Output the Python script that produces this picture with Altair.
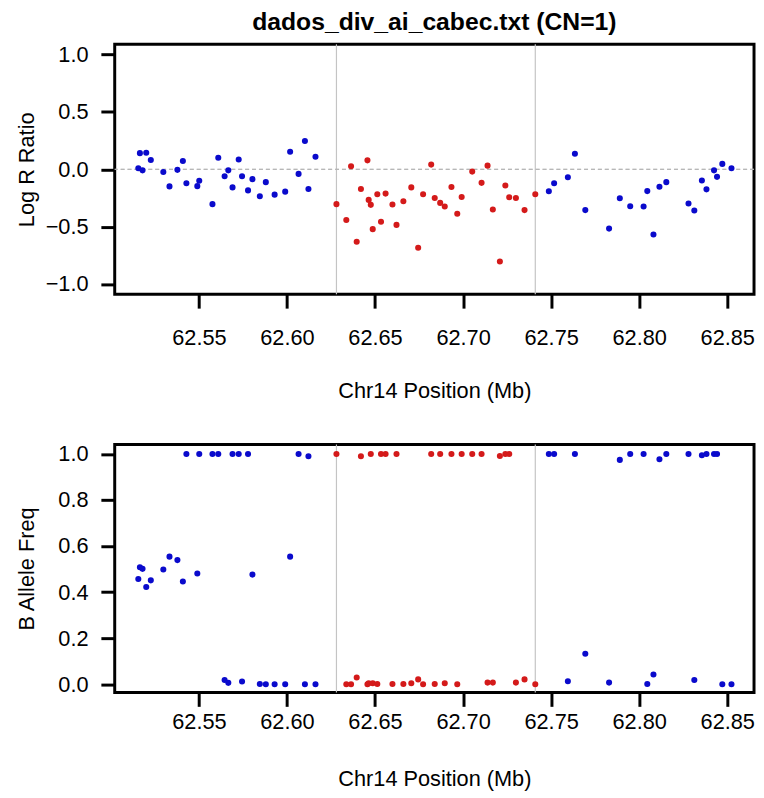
import altair as alt
import pandas as pd

# ---- data ----
position = [
    62.5156, 62.5165, 62.5180, 62.5201, 62.5227, 62.5298, 62.5333, 62.5378, 62.5409, 62.5429,
    62.5491, 62.5502, 62.5577, 62.5610, 62.5646, 62.5667, 62.5691, 62.5726, 62.5745, 62.5779,
    62.5804, 62.5846, 62.5880, 62.5930, 62.5990, 62.6018, 62.6066, 62.6102, 62.6122, 62.6162,
    62.6281, 62.6337, 62.6364, 62.6396, 62.6420, 62.6457, 62.6464, 62.6476, 62.6487, 62.6513,
    62.6534, 62.6560, 62.6599, 62.6622, 62.6661, 62.6706, 62.6745, 62.6773, 62.6819, 62.6839,
    62.6870, 62.6896, 62.6934, 62.6967, 62.6992, 62.7052, 62.7105, 62.7139, 62.7169, 62.7209,
    62.7240, 62.7262, 62.7300, 62.7349, 62.7410,
    62.7487, 62.7517, 62.7595, 62.7635, 62.7694, 62.7829, 62.7890, 62.7949, 62.8025, 62.8046,
    62.8081, 62.8115, 62.8154, 62.8280, 62.8313, 62.8356, 62.8382, 62.8425, 62.8442, 62.8472,
    62.8524,
]
log_r_ratio = [
    0.009, 0.141, -0.009, 0.144, 0.081, -0.023, -0.149, -0.005, 0.072, -0.121,
    -0.147, -0.100, -0.304, 0.101, -0.060, -0.009, -0.158, 0.086, -0.060, -0.184,
    -0.086, -0.235, -0.112, -0.221, -0.195, 0.153, -0.040, 0.247, -0.172, 0.109,
    -0.304, -0.442, 0.026, -0.632, -0.172, 0.078, -0.267, -0.310, -0.522, -0.218,
    -0.457, -0.212, -0.307, -0.485, -0.278, -0.158, -0.684, -0.218, 0.041, -0.250,
    -0.293, -0.324, -0.155, -0.388, -0.241, -0.020, -0.118, 0.032, -0.350, -0.804,
    -0.141, -0.244, -0.250, -0.356, -0.218,
    -0.192, -0.121, -0.069, 0.135, -0.356, -0.517, -0.253, -0.322, -0.324, -0.190,
    -0.569, -0.152, -0.112, -0.298, -0.359, -0.097, -0.175, -0.009, -0.066, 0.047,
    0.009,
]
b_allele_freq = [
    0.457, 0.508, 0.501, 0.422, 0.451, 0.498, 0.554, 0.539, 0.446, 1.000,
    0.481, 1.000, 1.000, 1.000, 0.018, 0.006, 1.000, 1.000, 0.012, 1.000,
    0.476, 0.001, 0.000, 0.000, 0.000, 0.554, 1.000, 0.000, 0.990, 0.000,
    1.000, 0.000, 0.000, 0.029, 0.990, 0.000, 0.004, 1.000, 0.004, 0.001,
    1.000, 1.000, 0.001, 1.000, 0.001, 0.004, 0.021, 0.000, 1.000, 0.001,
    1.000, 0.004, 1.000, 0.000, 1.000, 1.000, 1.000, 0.007, 0.007, 0.991,
    1.000, 1.000, 0.007, 0.021, 0.000,
    1.000, 1.000, 0.013, 1.000, 0.132, 0.007, 0.974, 1.000, 1.000, 0.001,
    0.042, 0.977, 1.000, 1.000, 0.018, 0.994, 1.000, 1.000, 1.000, 0.000,
    0.000,
]
region_bounds = [62.6281, 62.7410]
x_ticks = [62.55, 62.60, 62.65, 62.70, 62.75, 62.80, 62.85]
lrr_ticks = [-1.0, -0.5, 0.0, 0.5, 1.0]
baf_ticks = [0.0, 0.2, 0.4, 0.6, 0.8, 1.0]
chart_title = ["dados_div_ai_cabec.txt (CN=1)"]

df = pd.DataFrame({"pos": position, "lrr": log_r_ratio, "baf": b_allele_freq})
df["state"] = ["cn1" if region_bounds[0] <= p <= region_bounds[1] else "normal" for p in position]
bounds_df = pd.DataFrame({"pos": region_bounds})
title_df = pd.DataFrame({"t": chart_title})

FONT = "Liberation Sans"
BLUE = "#0a0acc"
RED = "#d41a1a"
W = 647
XSCALE = alt.Scale(domain=[62.5022, 62.8652], nice=False, zero=False)
color_enc = alt.Color(
    "state:N",
    scale=alt.Scale(domain=["normal", "cn1"], range=[BLUE, RED]),
    legend=None,
)


def x_enc(label_pad, title_pad):
    return alt.X(
        "pos:Q",
        scale=XSCALE,
        axis=alt.Axis(
            values=x_ticks, format=".2f", title="Chr14 Position (Mb)",
            labelPadding=label_pad, titlePadding=title_pad,
        ),
    )


vrules = alt.Chart(bounds_df).mark_rule(color="#c4c4c4", strokeWidth=1.2).encode(x=alt.X("pos:Q"))

top_pts = alt.Chart(df).mark_circle(size=38, opacity=1).encode(
    x=x_enc(20, 32),
    y=alt.Y(
        "lrr:Q",
        scale=alt.Scale(domain=[-1.09, 1.09], nice=False, zero=False),
        axis=alt.Axis(values=lrr_ticks, format=".1f", title="Log R Ratio", titlePadding=7),
    ),
    color=color_enc,
)
zero_line = alt.Chart(bounds_df).mark_rule(
    color="#b4b4b4", strokeDash=[4, 3], strokeWidth=1
).encode(y=alt.datum(0))

title_text = alt.Chart(title_df).mark_text(
    font=FONT, fontSize=25, fontWeight="bold", color="black",
    align="center", baseline="alphabetic",
).encode(text="t:N", x=alt.value(W / 2), y=alt.value(-14))

top = alt.layer(vrules, zero_line, top_pts, title_text).properties(width=W, height=253)

bot_pts = alt.Chart(df).mark_circle(size=38, opacity=1).encode(
    x=x_enc(5, 37),
    y=alt.Y(
        "baf:Q",
        scale=alt.Scale(domain=[-0.036, 1.041], nice=False, zero=False),
        axis=alt.Axis(values=baf_ticks, format=".1f", title="B Allele Freq", titlePadding=20),
    ),
    color=color_enc,
)
bottom = alt.layer(vrules, bot_pts).properties(width=W, height=251)

chart = alt.vconcat(top, bottom, spacing=39).properties(
    padding={"left": 5, "top": -4, "right": 0, "bottom": 0}
).configure_view(
    stroke="black", strokeWidth=3
).configure_axis(
    domain=False, grid=False, ticks=True, tickColor="black", tickWidth=3, tickSize=14,
    labelFont=FONT, labelFontSize=22, labelColor="black", labelPadding=13,
    titleFont=FONT, titleFontSize=22, titleFontWeight="normal", titleColor="black",
)

chart.save("out.html", embed_options={"renderer": "svg", "actions": False})
